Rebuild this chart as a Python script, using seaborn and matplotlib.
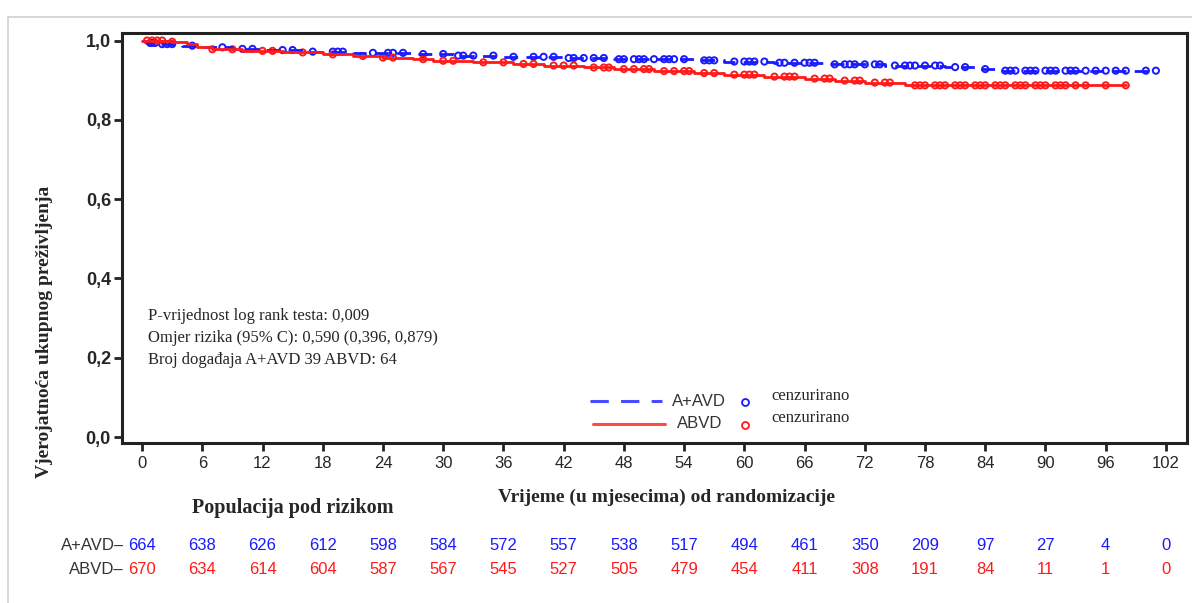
import matplotlib
matplotlib.use("Agg")
import matplotlib.pyplot as plt
import seaborn as sns
import numpy as np
import pandas as pd
from matplotlib.lines import Line2D
from matplotlib.transforms import blended_transform_factory

# Kaplan-Meier stepovi (mjesec, preživljenje)
aavd_vrijeme = [0, 0.5, 1.5, 4, 6, 9, 12, 16, 21, 27, 31, 36, 42, 47, 55, 58, 63, 68, 74, 80, 83, 85, 101]
aavd_prezivljenje = [1.0, 0.994, 0.991, 0.987, 0.983, 0.979, 0.976, 0.972, 0.969, 0.966, 0.962, 0.959,
                     0.956, 0.953, 0.950, 0.947, 0.944, 0.940, 0.937, 0.933, 0.928, 0.924, 0.924]
abvd_vrijeme = [0, 3, 4.5, 5.5, 7, 10, 14, 18, 21, 24, 27, 29, 33, 37, 40, 44, 47, 51, 55, 58, 62, 66,
                69, 72, 76, 98]
abvd_prezivljenje = [1.0, 0.997, 0.990, 0.983, 0.978, 0.974, 0.970, 0.965, 0.961, 0.957, 0.953, 0.949,
                     0.945, 0.941, 0.937, 0.932, 0.928, 0.923, 0.918, 0.914, 0.909, 0.904, 0.899, 0.894,
                     0.887, 0.887]

# cenzurirani pacijenti (mjeseci)
aavd_cenzura = [0.8, 1, 1.3, 2, 2.5, 3, 5, 8, 10, 11, 14, 15, 17, 19, 19.5, 20, 23, 24.5, 25, 26, 28,
                30, 31.5, 32, 33, 35, 37, 39, 40, 41, 42.5, 43, 44, 45, 46, 47.5, 48, 49, 49.5, 50, 51,
                52, 52.5, 53, 54, 56, 56.5, 57, 59, 60, 60.5, 61, 62, 63.5, 64, 65, 66, 66.5, 67, 69,
                70, 70.5, 71, 72, 73, 73.5, 75, 76, 76.5, 77, 78, 79, 79.5, 81, 82, 84, 86, 86.5, 87,
                88, 88.5, 89, 90, 90.5, 91, 92, 92.5, 93, 94, 95, 96, 97, 98, 100, 101]
abvd_cenzura = [0.5, 1, 1.5, 2, 3, 7, 9, 12, 13, 16, 19, 22, 24, 25, 28, 30, 31, 34, 36, 38, 39, 41,
                42, 43, 45, 46, 46.5, 48, 49, 50, 50.5, 52, 53, 54, 54.5, 56, 57, 59, 60, 60.5, 61, 63,
                64, 64.5, 65, 67, 68, 68.5, 70, 71, 71.5, 73, 74, 74.5, 77, 77.5, 78, 79, 79.5, 80, 81,
                81.5, 82, 83, 83.5, 84, 85, 85.5, 86, 87, 87.5, 88, 89, 89.5, 90, 91, 91.5, 92, 93, 94,
                96, 98]

# populacija pod rizikom
mjeseci = list(range(0, 103, 6))
rizik_aavd = [664, 638, 626, 612, 598, 584, 572, 557, 538, 517, 494, 461, 350, 209, 97, 27, 4, 0]
rizik_abvd = [670, 634, 614, 604, 587, 567, 545, 527, 505, 479, 454, 411, 308, 191, 84, 11, 1, 0]

y_oznake = ["0,0", "0,2", "0,4", "0,6", "0,8", "1,0"]

PLAVA = "#1a1aff"
CRVENA = "#ff1a1a"

sns.set_style("ticks")
plt.rcParams["font.family"] = ["Liberation Sans", "DejaVu Sans"]
SERIF = ["Liberation Serif", "DejaVu Serif"]

W, H = 1192, 603
fig = plt.figure(figsize=(W / 100, H / 100), dpi=100)
ax = fig.add_axes([122 / W, 1 - 443 / H, (1187 - 122) / W, (443 - 33) / H])


def px(x, y):
    return x / W, 1 - y / H


km = pd.concat([
    pd.DataFrame({"mjesec": aavd_vrijeme, "prezivljenje": aavd_prezivljenje, "grupa": "A+AVD"}),
    pd.DataFrame({"mjesec": abvd_vrijeme, "prezivljenje": abvd_prezivljenje, "grupa": "ABVD"}),
])
sns.lineplot(data=km, x="mjesec", y="prezivljenje", hue="grupa", style="grupa",
             palette={"A+AVD": PLAVA, "ABVD": CRVENA},
             dashes={"A+AVD": (5, 3), "ABVD": ""},
             estimator=None, sort=False, drawstyle="steps-post", linewidth=2.0,
             legend=False, ax=ax)


def na_krivulji(vrijeme, prez, cenz):
    idx = np.searchsorted(vrijeme, cenz, side="right") - 1
    return np.array(prez)[idx]


for vr, pr, cz, boja in [(aavd_vrijeme, aavd_prezivljenje, aavd_cenzura, PLAVA),
                         (abvd_vrijeme, abvd_prezivljenje, abvd_cenzura, CRVENA)]:
    sns.scatterplot(x=cz, y=na_krivulji(vr, pr, cz), marker="o", s=20, color=boja,
                    linewidth=1.4, ax=ax)
    kol = ax.collections[-1]
    kol.set_facecolor("none")
    kol.set_edgecolor(boja)

ax.set_xlim(-2, 104.1)
ax.set_ylim(-0.015, 1.019)
ax.set_xticks(mjeseci)
ax.set_xticklabels([str(m) for m in mjeseci], fontsize=12)
ax.set_yticks([0, 0.2, 0.4, 0.6, 0.8, 1.0])
ax.set_yticklabels(y_oznake, fontsize=13, fontweight="bold")
ax.set_xlabel("")
ax.set_ylabel("")
for s in ax.spines.values():
    s.set_visible(True)
    s.set_linewidth(2.2)
    s.set_color("#222222")
ax.tick_params(axis="both", direction="out", length=6, width=2, color="#222222",
               bottom=True, left=True, top=False, right=False)
ax.tick_params(axis="x", pad=3)
ax.tick_params(axis="y", pad=2)

# okvir slike
fig.add_artist(Line2D([8 / W, 1], [1 - 17 / H, 1 - 17 / H], color="#d0d0d0", lw=1.2))
fig.add_artist(Line2D([8 / W, 8 / W], [0, 1 - 17 / H], color="#d0d0d0", lw=1.2))

# naslovi osi
fig.text(*px(45, 332), "Vjerojatnoća ukupnog preživljenja", rotation=90, ha="center", va="center",
         family=SERIF, fontweight="bold", fontsize=14)
fig.text(*px(667, 497), "Vrijeme (u mjesecima) od randomizacije", ha="center", va="center",
         family=SERIF, fontweight="bold", fontsize=14)
fig.text(*px(293, 508), "Populacija pod rizikom", ha="center", va="center",
         family=SERIF, fontweight="bold", fontsize=14.5)

# statistika
for y, t in [(316, "P-vrijednost log rank testa: 0,009"),
             (338, "Omjer rizika (95% C): 0,590 (0,396, 0,879)"),
             (360, "Broj događaja A+AVD 39 ABVD: 64")]:
    fig.text(*px(148, y), t, ha="left", va="center", family=SERIF, fontsize=12)

# legenda
fig.add_artist(Line2D([590 / W, 662 / W], [1 - 401 / H] * 2, color="#4a4aff", lw=2.2,
                      dashes=(6, 4)))
fig.add_artist(Line2D([593 / W, 665 / W], [1 - 424 / H] * 2, color="#ff4a4a", lw=2.2))
fig.text(*px(672, 401), "A+AVD", ha="left", va="center", fontsize=12, color="#333333")
fig.text(*px(677, 424), "ABVD", ha="left", va="center", fontsize=12, color="#333333")
fig.add_artist(Line2D([745 / W], [1 - 402 / H], marker="o", ms=5, mfc="none", mec=PLAVA, mew=1.3))
fig.add_artist(Line2D([745 / W], [1 - 425 / H], marker="o", ms=5, mfc="none", mec=CRVENA, mew=1.3))
fig.text(*px(771, 396), "cenzurirano", ha="left", va="center", family=SERIF, fontsize=12)
fig.text(*px(771, 418), "cenzurirano", ha="left", va="center", family=SERIF, fontsize=12)

# tablica populacije pod rizikom
tr = blended_transform_factory(ax.transData, fig.transFigure)
for y, naziv, vrijednosti, boja in [(545, "A+AVD–", rizik_aavd, PLAVA), (570, "ABVD–", rizik_abvd, CRVENA)]:
    fig.text(*px(124, y), naziv, ha="right", va="center", fontsize=12, color="#333333")
    for m, v in zip(mjeseci, vrijednosti):
        ax.text(m, 1 - y / H, str(v), transform=tr, ha="center", va="center", fontsize=12,
                color=boja, clip_on=False)

fig.savefig("out.png", dpi=100)
